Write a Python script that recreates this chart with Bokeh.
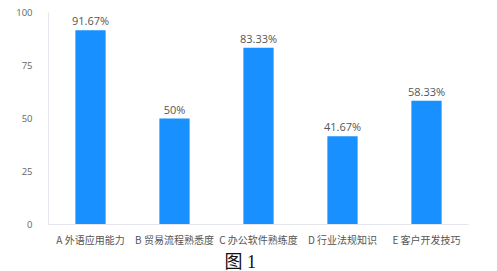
from bokeh.plotting import figure
from bokeh.models import ColumnDataSource, Range1d, FixedTicker, LabelSet, Title
from bokeh.core.properties import value
from bokeh.embed import file_html
from bokeh.resources import INLINE

categories = ["A 外语应用能力", "B 贸易流程熟悉度", "C 办公软件熟练度", "D 行业法规知识", "E 客户开发技巧"]
values = [91.67, 50, 83.33, 41.67, 58.33]
value_labels = ["91.67%", "50%", "83.33%", "41.67%", "58.33%"]
y_ticks = [0, 25, 50, 75, 100]
caption = "图 1"

source = ColumnDataSource(data=dict(cat=categories, val=values, lab=value_labels))

p = figure(
    x_range=categories, y_range=Range1d(0, 100),
    width=497, height=271,
    output_backend="svg", toolbar_location=None,
    min_border_left=48, min_border_right=29, min_border_top=12, min_border_bottom=0,
)
p.outline_line_color = None
p.background_fill_color = "white"
p.border_fill_color = "white"

p.vbar(x="cat", top="val", width=0.36, source=source,
       fill_color="#1890ff", line_color=None)

labels = LabelSet(x="cat", y="val", text="lab", source=source,
                  text_align="center", text_baseline="bottom", y_offset=2,
                  text_font=value("Open Sans"), text_font_size="11px", text_color="#555555")
p.add_layout(labels)

# figure caption below the category labels
p.add_layout(Title(text=caption, align="left", offset=176, standoff=0,
                   text_font="Liberation Serif, Noto Sans CJK SC",
                   text_font_size="18px", text_font_style="normal",
                   text_color="#111111"), "below")

p.xgrid.grid_line_color = None
p.ygrid.grid_line_color = None

p.yaxis.ticker = FixedTicker(ticks=y_ticks)
p.yaxis.axis_line_color = "#e3e6ee"
p.yaxis.major_tick_line_color = None
p.yaxis.minor_tick_line_color = None
p.yaxis.major_label_text_font = "Open Sans"
p.yaxis.major_label_text_font_size = "9.5px"
p.yaxis.major_label_text_color = "#666666"
p.yaxis.major_label_standoff = 10

p.xaxis.axis_line_color = "#e3e6ee"
p.xaxis.major_tick_line_color = None
p.xaxis.minor_tick_line_color = None
p.xaxis.major_label_text_font = "Noto Sans CJK SC"
p.xaxis.major_label_text_font_size = "10px"
p.xaxis.major_label_text_color = "#555555"
p.xaxis.major_label_standoff = 1

open("out.html", "w").write(file_html(p, INLINE))
